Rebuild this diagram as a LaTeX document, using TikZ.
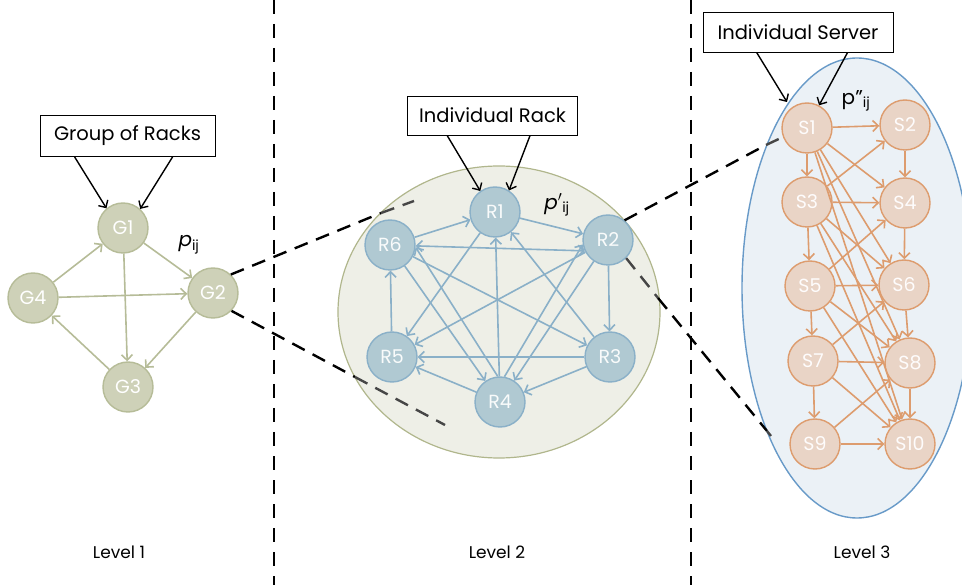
\documentclass[tikz,border=0pt]{standalone}
\usepackage{fontspec}
\setmainfont{Poppins}
\usetikzlibrary{arrows.meta}

\definecolor{gfill}{RGB}{206,209,184}
\definecolor{gline}{RGB}{182,188,152}
\definecolor{rfill}{RGB}{176,201,210}
\definecolor{rline}{RGB}{138,176,200}
\definecolor{sfill}{RGB}{233,212,198}
\definecolor{sline}{RGB}{221,156,110}
\definecolor{zonegreen}{RGB}{238,239,231}
\definecolor{zonegreenline}{RGB}{176,182,140}
\definecolor{zoneblue}{RGB}{235,241,246}
\definecolor{zoneblueline}{RGB}{104,154,200}
\definecolor{zoomgray}{RGB}{70,70,70}

\tikzset{
  vnode/.style={circle, line width=1.4pt, minimum size=50pt, inner sep=0pt,
    font=\fontsize{19}{19}\selectfont},
  gnode/.style={vnode, draw=gline, fill=gfill, text=white},
  rnode/.style={vnode, draw=rline, fill=rfill, text=white!92!rfill},
  snode/.style={vnode, draw=sline, fill=sfill, text=white!94!sfill},
  gedge/.style={->, gline, line width=1.6pt},
  redge/.style={->, rline, line width=1.6pt},
  sedge/.style={->, sline, line width=1.6pt},
  labelbox/.style={draw, line width=0.8pt, fill=white, inner sep=0pt,
    font=\fontsize{19.5}{19.5}\selectfont},
  boxarrow/.style={->, black, line width=1.4pt},
  zoomline/.style={black, line width=2.4pt, dash pattern=on 14pt off 9pt},
  levelsep/.style={black, line width=2.6pt, dash pattern=on 14pt off 10pt},
  levelname/.style={font=\fontsize{17}{17}\selectfont}
}

\begin{document}
\begin{tikzpicture}[x=1pt, y=-1pt, >={Straight Barb[length=5.5pt,width=11pt]}]
\useasboundingbox (0,0) rectangle (962,585);

\draw[levelsep] (274,0) -- (274,585);
\draw[levelsep] (691,0) -- (691,585);

% zones
\draw[fill=zonegreen, draw=zonegreenline, line width=1.2pt] (499,312) ellipse [x radius=161, y radius=146];
\draw[fill=zoneblue, draw=zoneblueline, line width=1.4pt] (857,288) ellipse [x radius=115, y radius=230];

% level 1
\node[gnode] (G1) at (123,228) {G1};
\node[gnode] (G2) at (213,293) {G2};
\node[gnode] (G3) at (128,387) {G3};
\node[gnode] (G4) at (33,298) {G4};
\node (pg) at (189,245) {\fontsize{20}{20}\selectfont\textit{p}\textsubscript{ij}};

% level 2
\node[rnode] (R1) at (495,212) {R1};
\node[rnode] (R2) at (608,240) {R2};
\node[rnode] (R3) at (610,357) {R3};
\node[rnode] (R4) at (500,402) {R4};
\node[rnode] (R5) at (392,357) {R5};
\node[rnode] (R6) at (390,245) {R6};
\node (pr) at (557,205) {\fontsize{20}{20}\selectfont\textit{p}$'$\textsubscript{ij}};

% level 3
\node[snode] (S1) at (807,128) {S1};
\node[snode] (S2) at (905,125) {S2};
\node[snode] (S3) at (807,202) {S3};
\node[snode] (S4) at (905,203) {S4};
\node[snode] (S5) at (810,286) {S5};
\node[snode] (S6) at (904,285) {S6};
\node[snode] (S7) at (813,361) {S7};
\node[snode] (S8) at (910,363) {S8};
\node[snode] (S9) at (815,444) {S9};
\node[snode] (S10) at (910,444) {S10};
\node (ps) at (856,101) {\fontsize{20}{20}\selectfont p\textquotedblright\textsubscript{ij}};

\foreach \a/\b in {G4/G1, G1/G2, G4/G2, G1/G3, G2/G3, G3/G4}
  \draw[gedge] (\a) -- (\b);

\foreach \a/\b in {R6/R1, R1/R2, R2/R3, R3/R4, R4/R5, R5/R6, R1/R5, R2/R5,
    R3/R5, R6/R3, R6/R4, R4/R1, R3/R1, R2/R4}
  \draw[redge] (\a) -- (\b);
\draw[redge] (R4.95) -- (R6.-5);
\draw[redge] (R4.80) -- (R2.190);
\draw[redge, <->] (R6.-2) -- (R2.205);

\foreach \a/\b in {S1/S2, S1/S3, S2/S4, S3/S5, S4/S6, S5/S7, S6/S8, S7/S9,
    S8/S10, S9/S10, S1/S4, S1/S6, S1/S8, S1/S10, S3/S2, S3/S4, S3/S6, S3/S8,
    S3/S10, S5/S4, S5/S6, S5/S8, S5/S10, S7/S6, S7/S8, S7/S10, S9/S8}
  \draw[sedge] (\a) -- (\b);

% labels
\node[labelbox, minimum width=175pt, minimum height=41pt] (grp) at (127.5,136) {Group of Racks};
\node[labelbox, minimum width=170pt, minimum height=39pt] (rack) at (492.5,115.5) {Individual Rack};
\node[labelbox, minimum width=190pt, minimum height=40pt] (srv) at (798,32) {Individual Server};
\coordinate (srvtip) at (787,102);

\draw[boxarrow] ([xshift=35pt]grp.south west) -- (G1.130);
\draw[boxarrow] ([xshift=133pt]grp.south west) -- (G1.48);
\draw[boxarrow] ([xshift=40pt]rack.south west) -- (R1.125);
\draw[boxarrow] ([xshift=123pt]rack.south west) -- (R1.57);
\draw[boxarrow] ([xshift=54pt]srv.south west) -- (srvtip);
\draw[boxarrow] ([xshift=145pt]srv.south west) -- (S1.62);

% zoom lines
\coordinate (za1) at (381,213);
\coordinate (za2) at (414,201);
\coordinate (zb1) at (355,377);
\coordinate (zb2) at (445,425);
\coordinate (zc1) at (766,145);
\coordinate (zc2) at (783,137);
\coordinate (zd1) at (658,298);
\coordinate (zd2) at (767,431);
\coordinate (zd3) at (771,436);
\draw[zoomline] (G2.46) -- (za1);
\draw[zoomline, zoomgray] (za1) -- (za2);
\draw[zoomline] (G2.-44) -- (zb1);
\draw[zoomline, zoomgray] (zb1) -- (zb2);
\draw[zoomline] (R2.50) -- (zc1);
\draw[zoomline, zoomgray] (zc1) -- (zc2);
\draw[zoomline, zoomgray] (R2.-45) -- (zd1);
\draw[zoomline] (zd1) -- (zd2);
\draw[zoomline, zoomgray] (zd2) -- (zd3);

\node[levelname] (lv1) at (119,552) {Level 1};
\node[levelname] (lv2) at (497,552) {Level 2};
\node[levelname] (lv3) at (862,552) {Level 3};
\end{tikzpicture}
\end{document}
